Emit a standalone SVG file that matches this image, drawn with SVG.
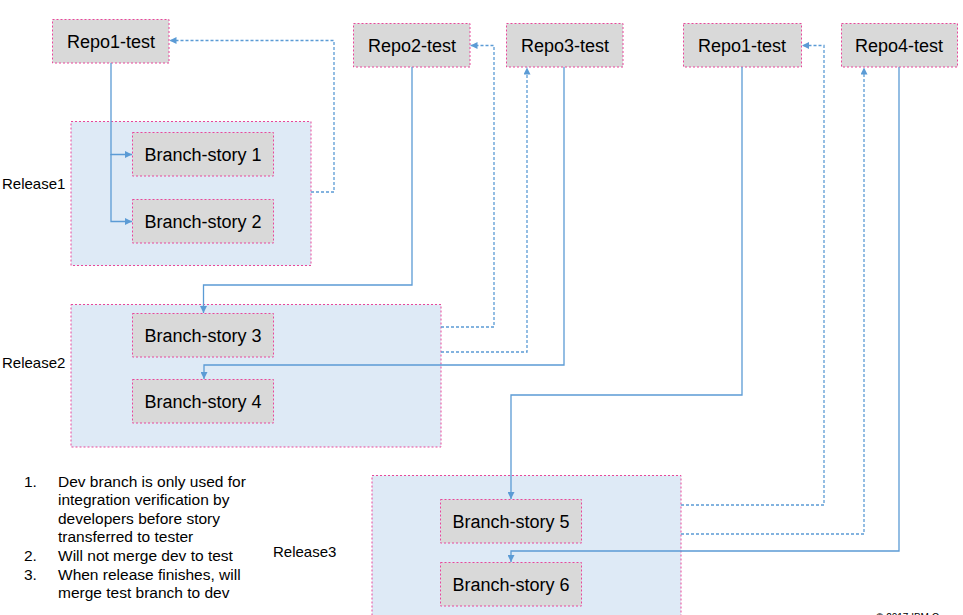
<svg xmlns="http://www.w3.org/2000/svg" width="963" height="615" viewBox="0 0 963 615">
<style>
.rel{fill:#deeaf6;stroke:#e8479a;stroke-width:1;stroke-dasharray:2 2}
.box{fill:#d9d9d9;stroke:#e8479a;stroke-width:1;stroke-dasharray:2 2}
.t{font-family:"Liberation Sans",Arial,sans-serif;font-size:18px;fill:#000;text-anchor:middle}
.lbl{font-family:"Liberation Sans",Arial,sans-serif;font-size:15px;fill:#000}
.note{font-family:"Liberation Sans",Arial,sans-serif;font-size:15.5px;fill:#000}
.s{fill:none;stroke:#5b9bd5;stroke-width:1.3}
.d{fill:none;stroke:#5b9bd5;stroke-width:1.3;stroke-dasharray:3 2}
</style>
<defs>
<marker id="ah" viewBox="0 0 10 10" refX="10" refY="5" markerWidth="7" markerHeight="7" markerUnits="userSpaceOnUse" orient="auto">
<path d="M0,0 L10,5 L0,10 z" fill="#5b9bd5"/>
</marker>
</defs>
<rect width="963" height="615" fill="#fff"/>
<g id="release1"><rect class="rel" x="71" y="121.5" width="240" height="144"/><text class="lbl" x="2" y="189">Release1</text></g>
<g id="release2"><rect class="rel" x="71" y="304.5" width="370" height="142.5"/><text class="lbl" x="2" y="368">Release2</text></g>
<g id="release3"><rect class="rel" x="372" y="475.5" width="309" height="145"/><text class="lbl" x="273" y="557">Release3</text></g>
<g id="repo1a"><rect class="box" x="52.5" y="19.5" width="116.5" height="43.5"/><text class="t" x="111" y="48">Repo1-test</text></g>
<g id="repo2"><rect class="box" x="353.5" y="23.5" width="116.5" height="43.5"/><text class="t" x="412" y="52">Repo2-test</text></g>
<g id="repo3"><rect class="box" x="506.5" y="23.5" width="116.5" height="43.5"/><text class="t" x="565" y="52">Repo3-test</text></g>
<g id="repo1b"><rect class="box" x="683.5" y="23.5" width="118" height="43.5"/><text class="t" x="742" y="52">Repo1-test</text></g>
<g id="repo4"><rect class="box" x="841.5" y="23.5" width="116" height="43.5"/><text class="t" x="899" y="52">Repo4-test</text></g>
<g id="bs1"><rect class="box" x="132.5" y="132.5" width="141" height="43.5"/><text class="t" x="203" y="161">Branch-story 1</text></g>
<g id="bs2"><rect class="box" x="132.5" y="199.5" width="141" height="43.5"/><text class="t" x="203" y="228">Branch-story 2</text></g>
<g id="bs3"><rect class="box" x="132.5" y="313.5" width="141" height="43.5"/><text class="t" x="203" y="342">Branch-story 3</text></g>
<g id="bs4"><rect class="box" x="132.5" y="379.5" width="141" height="43.5"/><text class="t" x="203" y="408">Branch-story 4</text></g>
<g id="bs5"><rect class="box" x="440.5" y="499.5" width="141" height="43.5"/><text class="t" x="511" y="528">Branch-story 5</text></g>
<g id="bs6"><rect class="box" x="440.5" y="562.5" width="141" height="43.5"/><text class="t" x="511" y="591">Branch-story 6</text></g>
<g id="connectors">
<path class="s" d="M111,63 V154.5 H132" marker-end="url(#ah)"/>
<path class="s" d="M111,154 V221.5 H132" marker-end="url(#ah)"/>
<path class="d" d="M311,192 H334 V40.5 H169.5" marker-end="url(#ah)"/>
<path class="s" d="M412,67 V285 H203.5 V313" marker-end="url(#ah)"/>
<path class="s" d="M564,67 V365 H204 V379" marker-end="url(#ah)"/>
<path class="d" d="M441,327 H494 V45.5 H470.5" marker-end="url(#ah)"/>
<path class="d" d="M441,352 H527 V67.5" marker-end="url(#ah)"/>
<path class="s" d="M742,67 V395 H511 V499" marker-end="url(#ah)"/>
<path class="s" d="M899,67 V551 H511 V562" marker-end="url(#ah)"/>
<path class="d" d="M681,505 H824 V45.5 H802" marker-end="url(#ah)"/>
<path class="d" d="M681,534 H864 V67.5" marker-end="url(#ah)"/>
</g>
<g id="notes">
<text class="note" x="24" y="487">1.</text>
<text class="note" x="58" y="487">Dev branch is only used for</text>
<text class="note" x="58" y="505">integration verification by</text>
<text class="note" x="58" y="524">developers before story</text>
<text class="note" x="58" y="542">transferred to tester</text>
<text class="note" x="24" y="561">2.</text>
<text class="note" x="58" y="561">Will not merge dev to test</text>
<text class="note" x="24" y="580">3.</text>
<text class="note" x="58" y="580">When release finishes, will</text>
<text class="note" x="58" y="598">merge test branch to dev</text>
</g>
<text x="876" y="620.5" font-family="Liberation Sans, Arial, sans-serif" font-size="10" fill="#000">© 2017 IBM Corporation</text>
</svg>
